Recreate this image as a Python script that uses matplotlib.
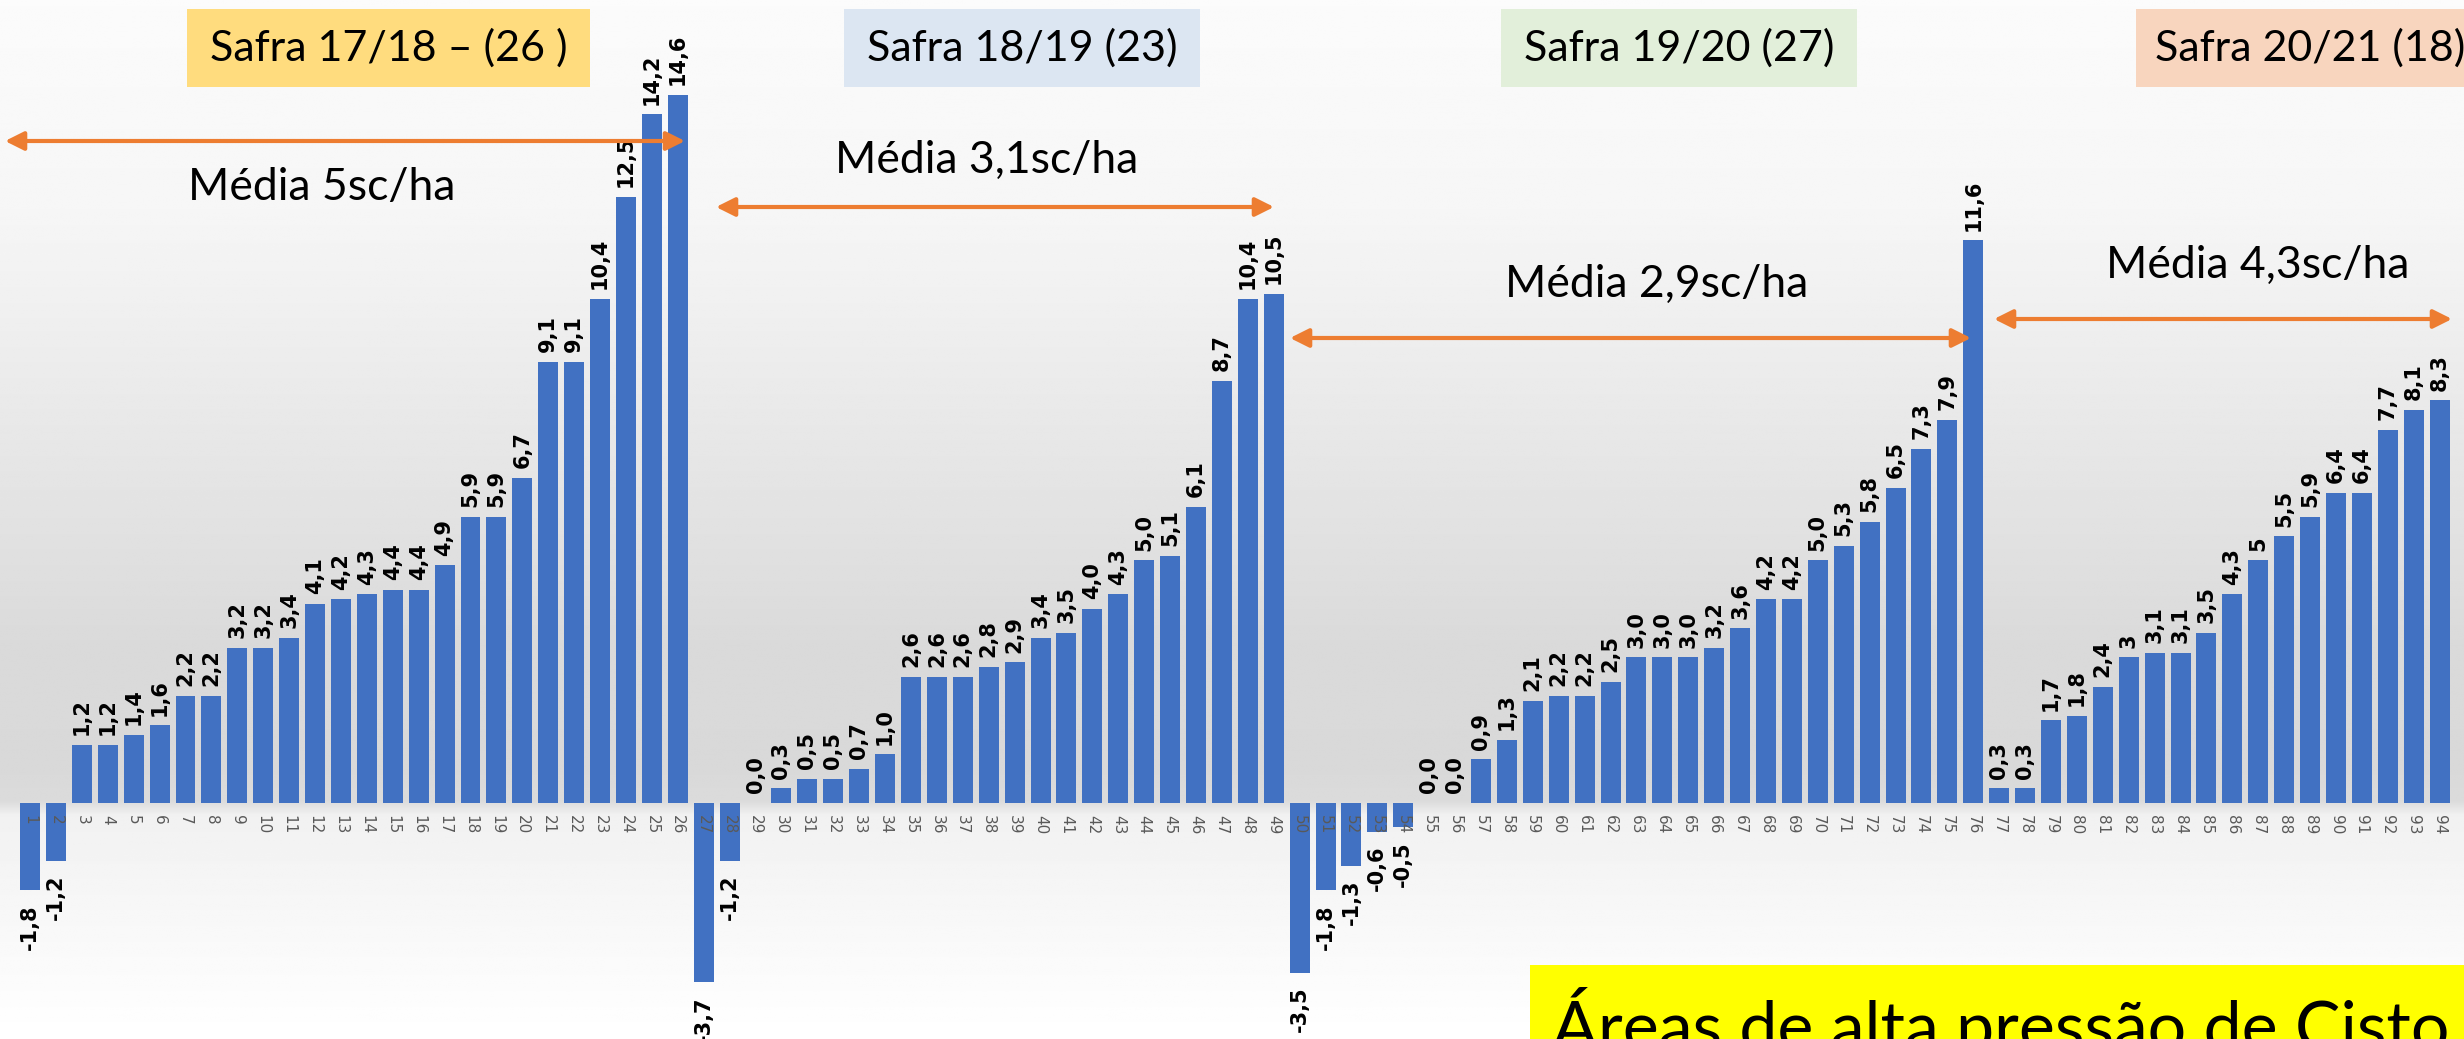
import numpy as np
import matplotlib
matplotlib.use("Agg")
import matplotlib.pyplot as plt
from matplotlib.patches import Rectangle

# diferença de produtividade (sc/ha) por área, 94 áreas em 4 safras
safra_1718 = [-1.8, -1.2, 1.2, 1.2, 1.4, 1.6, 2.2, 2.2, 3.2, 3.2, 3.4, 4.1, 4.2, 4.3, 4.4, 4.4,
              4.9, 5.9, 5.9, 6.7, 9.1, 9.1, 10.4, 12.5, 14.2, 14.6]
safra_1819 = [-3.7, -1.2, 0.0, 0.3, 0.5, 0.5, 0.7, 1.0, 2.6, 2.6, 2.6, 2.8, 2.9, 3.4, 3.5, 4.0,
              4.3, 5.0, 5.1, 6.1, 8.7, 10.4, 10.5]
safra_1920 = [-3.5, -1.8, -1.3, -0.6, -0.5, 0.0, 0.0, 0.9, 1.3, 2.1, 2.2, 2.2, 2.5, 3.0, 3.0, 3.0,
              3.2, 3.6, 4.2, 4.2, 5.0, 5.3, 5.8, 6.5, 7.3, 7.9, 11.6]
safra_2021 = [0.3, 0.3, 1.7, 1.8, 2.4, 3, 3.1, 3.1, 3.5, 4.3, 5, 5.5, 5.9, 6.4, 6.4, 7.7, 8.1, 8.3]

safra_titles = ["Safra 17/18 – (26 )", "Safra 18/19 (23)", "Safra 19/20 (27)", "Safra 20/21 (18)"]
safra_colors = ["#FFDC7E", "#DCE6F2", "#E2EFDA", "#F8D5BE"]
medias = ["Média 5sc/ha", "Média 3,1sc/ha", "Média 2,9sc/ha", "Média 4,3sc/ha"]

values = safra_1718 + safra_1819 + safra_1920 + safra_2021
areas = np.arange(1, len(values) + 1)
n_first3 = len(safra_1718) + len(safra_1819) + len(safra_1920)
labels = []
for i, v in enumerate(values):
    s = "{:.1f}".format(v) if i < n_first3 else "{:g}".format(v)
    labels.append(s.replace(".", ","))

W, H = 2464, 1039
fig = plt.figure(figsize=(W / 100, H / 100), dpi=100)

# fundo em degradê (estilo slide)
bg = fig.add_axes([0, 0, 1, 1], zorder=0)
stops_y = [0, 0.2, 0.45, 0.62, 0.74, 0.772, 0.785, 0.9, 1.0]
stops_v = [0.985, 0.965, 0.90, 0.855, 0.85, 0.86, 0.945, 0.975, 1.0]
grad = np.interp(np.linspace(0, 1, 400), stops_y, stops_v)
bg.imshow(np.tile(grad[:, None], (1, 10)), cmap="gray", vmin=0, vmax=1,
          aspect="auto", extent=[0, 1, 1, 0])
bg.set_xlim(0, 1)
bg.set_ylim(1, 0)
bg.axis("off")

# gráfico de barras
ax = fig.add_axes([0, 0, 1, 1], zorder=1)
ax.patch.set_alpha(0)
bars = ax.bar(areas, values, width=0.77, color="#4171C2", zorder=1)
ax.set_xlim(-0.16, 94.94)
ax.set_ylim(-4.87, 16.56)
for s in ["top", "right", "left"]:
    ax.spines[s].set_visible(False)
ax.spines["bottom"].set_position(("data", 0))
ax.spines["bottom"].set_visible(False)
ax.set_yticks([])
ax.set_xticks(areas, [str(a) for a in areas], rotation=-90)
ax.tick_params(axis="x", length=0, pad=9, labelsize=11, labelcolor="#595959")

for b, v, lab in zip(bars, values, labels):
    off = 7 if v >= 0 else -10
    ax.annotate(lab, (b.get_x() + b.get_width() / 2, v), xytext=(0, off),
                textcoords="offset points", rotation=90, ha="center",
                va="bottom" if v >= 0 else "top", fontsize=15,
                fontweight="bold", color="black")

# anotações em coordenadas de pixel
ov = fig.add_axes([0, 0, 1, 1], zorder=2)
ov.set_xlim(0, W)
ov.set_ylim(H, 0)
ov.axis("off")

box_x = [187, 844, 1501, 2136]
box_w = [403, 356, 356, 400]
for x0, w, t, c in zip(box_x, box_w, safra_titles, safra_colors):
    ov.add_patch(Rectangle((x0, 9), w, 78, color=c, lw=0))
for x0, w, t in zip(box_x[:3], box_w[:3], safra_titles[:3]):
    ov.text(x0 + w / 2, 48, t, ha="center", va="center", fontsize=31, family="Lato")
ov.text(2155, 48, safra_titles[3], ha="left", va="center", fontsize=31, family="Lato")

arrows = [(5, 685, 141), (716, 1274, 207), (1290, 1971, 338), (1994, 2452, 319)]
for x1, x2, y in arrows:
    ov.annotate("", xy=(x2, y), xytext=(x1, y),
                arrowprops=dict(arrowstyle="<|-|>", color="#ED7D31", lw=3,
                                mutation_scale=28, shrinkA=0, shrinkB=0))

media_pos = [(322, 200), (987, 173), (1657, 297), (2258, 278)]
for (x, y), t in zip(media_pos, medias):
    ov.text(x, y, t, ha="center", va="baseline", fontsize=32, family="Lato")

ov.add_patch(Rectangle((1530, 965), 960, 90, color="#FFFF00", lw=0))
ov.text(1552, 1050, "Áreas de alta pressão de Cisto", ha="left", va="baseline",
        fontsize=49, family="Lato", color="black")

fig.savefig("out.png", dpi=100)
